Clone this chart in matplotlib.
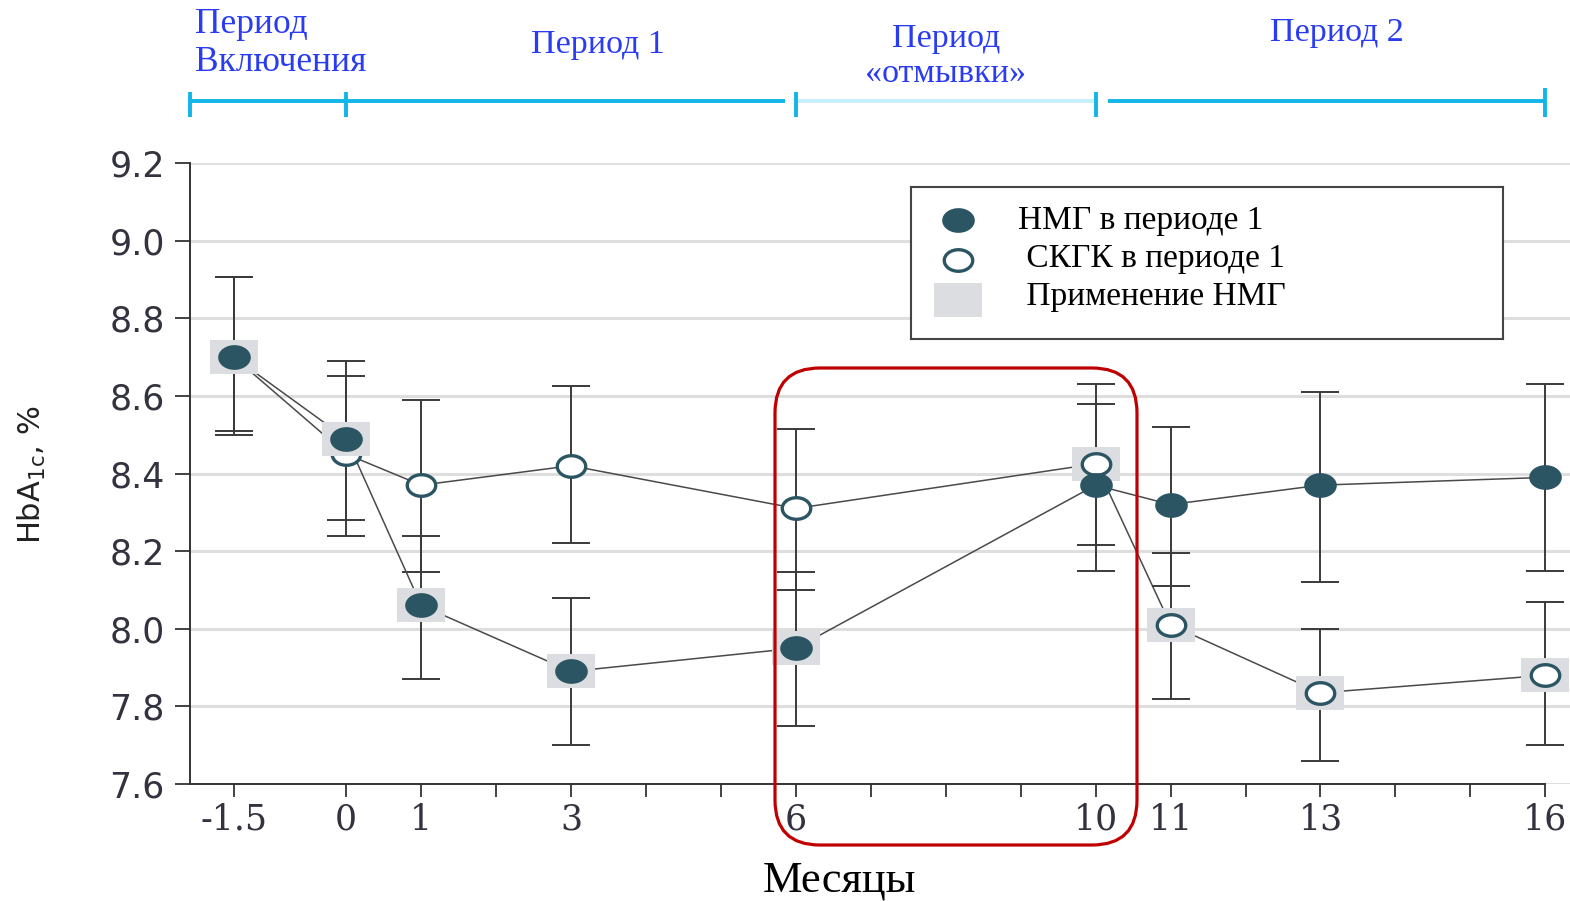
import numpy as np
import matplotlib
matplotlib.use("Agg")
import matplotlib.pyplot as plt
from matplotlib.path import Path
from matplotlib.patches import FancyBboxPatch

# months (x positions) and labels
months = [-1.5, 0, 1, 3, 6, 10, 11, 13, 16]
month_labels = ["-1.5", "0", "1", "3", "6", "10", "11", "13", "16"]

# НМГ в периоде 1 (filled)
nmg_mean = [8.70, 8.49, 8.06, 7.89, 7.95, 8.37, 8.32, 8.37, 8.39]
nmg_low = [8.50, 8.28, 7.87, 7.70, 7.75, 8.15, 8.11, 8.12, 8.15]
nmg_high = [8.905, 8.69, 8.24, 8.08, 8.145, 8.58, 8.52, 8.61, 8.63]
nmg_on_cgm = [True, True, True, True, True, False, False, False, False]

# СКГК в периоде 1 (open)
cgm_mean = [8.70, 8.45, 8.37, 8.42, 8.31, 8.425, 8.01, 7.835, 7.88]
cgm_low = [8.51, 8.24, 8.145, 8.22, 8.10, 8.215, 7.82, 7.66, 7.70]
cgm_high = [8.905, 8.65, 8.59, 8.625, 8.515, 8.63, 8.195, 8.0, 8.07]
cgm_on_cgm = [False, False, False, False, False, True, True, True, True]

periods = ["Период\nВключения", "Период 1", "Период\n«отмывки»", "Период 2"]
legend_labels = ["НМГ в периоде 1", " СКГК в периоде 1", " Применение НМГ"]

teal = "#2c5564"
gray_sq = "#dcdde0"
blue_txt = "#2a3cf2"
cyan = "#12b5e8"

# marker shapes: slightly wide ellipse and wide rectangle
t = np.linspace(0, 2 * np.pi, 60)
ellipse = Path(np.column_stack([1.32 * np.cos(t), np.sin(t)]), closed=True)
rect = Path([(-1.4, -1), (1.4, -1), (1.4, 1), (-1.4, 1), (-1.4, -1)], closed=True)

fig = plt.figure(figsize=(15.7, 9.01), dpi=100)
ax = fig.add_axes([190 / 1570, 1 - 784 / 901, 1 - 190 / 1570, 621 / 901])

x0 = -156 / 74.81
ax.set_xlim(x0, 16.33)
ax.set_ylim(7.6, 9.2)

# error bars and lines
for mean, lo, hi in [(cgm_mean, cgm_low, cgm_high), (nmg_mean, nmg_low, nmg_high)]:
    m = np.array(mean)
    yerr = [m - np.array(lo), np.array(hi) - m]
    ax.errorbar(months, m, yerr=yerr, fmt="none", ecolor="#3a3a3a", elinewidth=1.4,
                capsize=14, capthick=1.4, zorder=2, clip_on=False)
    ax.plot(months, m, color="#4a4a4a", lw=1.1, zorder=2, clip_on=False)

mx = np.array(months)
# open series: squares then markers
cm = np.array(cgm_mean)
sel = np.array(cgm_on_cgm)
ax.plot(mx[sel], cm[sel], ls="none", marker=rect, ms=35, color=gray_sq, mew=0, zorder=3, clip_on=False)
ax.plot(mx, cm, ls="none", marker=ellipse, ms=20.5, mfc="white", mec=teal, mew=2.4, zorder=4, clip_on=False)
# filled series
nm = np.array(nmg_mean)
sel = np.array(nmg_on_cgm)
ax.plot(mx[sel], nm[sel], ls="none", marker=rect, ms=35, color=gray_sq, mew=0, zorder=5, clip_on=False)
ax.plot(mx, nm, ls="none", marker=ellipse, ms=23.5, color=teal, mew=0, zorder=6, clip_on=False)

# axes styling
yt = np.arange(7.6, 9.21, 0.2)
ax.set_yticks(yt)
ax.set_yticklabels([f"{v:.1f}" for v in yt])
xt_pos = list(range(0, 17)) + [-1.5]
ax.set_xticks(xt_pos)
ax.set_xticklabels([month_labels[months.index(v)] if v in months else "" for v in xt_pos])
ax.grid(axis="y", color="#dedede", lw=2.2, zorder=0)
ax.set_axisbelow(True)
for s in ["top", "right"]:
    ax.spines[s].set_visible(False)
for s in ["left", "bottom"]:
    ax.spines[s].set_color("#333333")
    ax.spines[s].set_linewidth(1.4)
ax.spines["bottom"].set_bounds(x0, 16)
ax.tick_params(axis="y", length=11, width=1.3, color="#333333", pad=7, labelsize=25, labelcolor="#333340")
ax.tick_params(axis="x", length=9.5, width=1.3, color="#333333", pad=4, labelsize=25, labelcolor="#333340")
for lab in ax.get_xticklabels():
    lab.set_fontfamily("DejaVu Serif")

fig.text(839 / 1570, 1 - 880 / 901, "Месяцы", family="Liberation Serif", fontsize=32,
         ha="center", va="center", color="black")
fig.text(32 / 1570, 1 - 475 / 901, "HbA$_{\\mathrm{1c}}$, %", rotation=90, fontsize=22,
         ha="center", va="center", color="#222222")

# period bars on top
xt = ax.get_xaxis_transform()
seg = [(x0, 0, cyan), (0, 5.85, cyan), (6, 10, "#c8f0fb"), (10.16, 16, cyan)]
for a, b, c in seg:
    ax.plot([a, b], [1.0998, 1.0998], color=c, lw=2.8, transform=xt, clip_on=False, solid_capstyle="butt")
for xv in [x0, 0, 6, 10]:
    ax.plot([xv, xv], [1.074, 1.114], color=cyan, lw=2.8, transform=xt, clip_on=False, solid_capstyle="butt")
ax.plot([16, 16], [1.074, 1.121], color=cyan, lw=2.8, transform=xt, clip_on=False, solid_capstyle="butt")

ax.text(-2.02, 1.192, periods[0], transform=xt, ha="left", va="center", color=blue_txt,
        family="Liberation Serif", fontsize=25.5, linespacing=1.2)
ax.text(3.355, 1.190, periods[1], transform=xt, ha="center", va="center", color=blue_txt,
        family="Liberation Serif", fontsize=24.5)
ax.text(8.0, 1.172, periods[2], transform=xt, ha="center", va="center", color=blue_txt,
        family="Liberation Serif", fontsize=24.5, linespacing=1.2)
ax.text(13.22, 1.209, periods[3], transform=xt, ha="center", va="center", color=blue_txt,
        family="Liberation Serif", fontsize=24.5)

# legend box drawn as its own small axes
lax = fig.add_axes([911 / 1570, 1 - 339 / 901, 592 / 1570, 152 / 901])
lax.set_xlim(0, 1)
lax.set_ylim(0, 1)
lax.set_xticks([])
lax.set_yticks([])
for s in lax.spines.values():
    s.set_color("#444444")
    s.set_linewidth(1.5)
lax.plot([0.079], [0.783], marker=ellipse, ms=23.5, color=teal, mew=0)
lax.plot([0.079], [0.520], marker=ellipse, ms=20.5, mfc="white", mec=teal, mew=2.4)
lax.plot([0.079], [0.257], marker=rect, ms=34, color=gray_sq, mew=0)
for yy, lab in zip([0.776, 0.526, 0.276], legend_labels):
    lax.text(0.181, yy, lab, ha="left", va="center", family="Liberation Serif", fontsize=24, color="black")

# red highlight box around washout
box = FancyBboxPatch((7.75, 0.56), 3.62, 4.77, boxstyle="round,pad=0,rounding_size=0.45",
                     transform=fig.dpi_scale_trans, fill=False, ec="#c00000", lw=2.3, zorder=10)
fig.add_artist(box)

fig.savefig("out.png", dpi=100)
